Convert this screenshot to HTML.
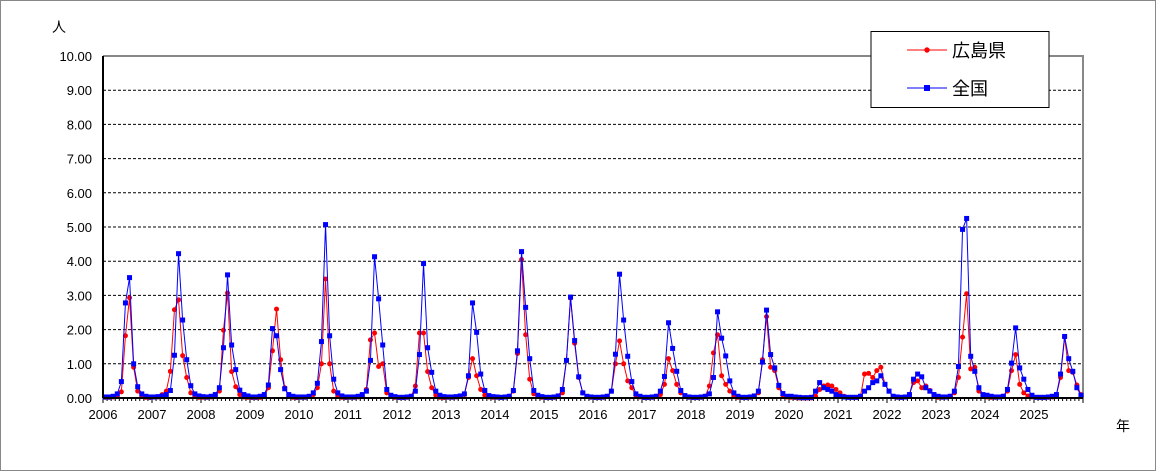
<!DOCTYPE html>
<html><head><meta charset="utf-8"><style>
html,body{margin:0;padding:0;background:#fff}
svg{display:block}
text{font-family:"Liberation Sans","Noto Sans CJK JP",sans-serif}
</style></head><body>
<svg id="c" width="1156" height="471" xmlns="http://www.w3.org/2000/svg"></svg>
<script>
const B={
2006:[.03,.03,.05,.12,.48,2.78,3.52,1.0,.33,.12,.05,.03],
2007:[.03,.04,.06,.1,.22,1.25,4.22,2.28,1.12,.36,.12,.06],
2008:[.04,.03,.05,.1,.3,1.47,3.6,1.55,.83,.23,.1,.06],
2009:[.03,.03,.05,.1,.38,2.03,1.82,.83,.27,.1,.05,.03],
2010:[.03,.03,.05,.15,.43,1.65,5.07,1.82,.55,.15,.06,.03],
2011:[.03,.03,.05,.1,.2,1.1,4.13,2.9,1.55,.25,.08,.04],
2012:[.02,.02,.03,.05,.2,1.27,3.93,1.47,.75,.2,.08,.04],
2013:[.03,.03,.04,.06,.12,.65,2.78,1.92,.7,.22,.07,.04],
2014:[.03,.02,.03,.05,.22,1.38,4.28,2.65,1.15,.22,.08,.04],
2015:[.02,.02,.03,.06,.25,1.1,2.95,1.68,.62,.15,.05,.03],
2016:[.02,.02,.03,.05,.2,1.28,3.62,2.28,1.22,.48,.12,.05],
2017:[.02,.02,.03,.05,.2,.63,2.2,1.45,.78,.22,.07,.03],
2018:[.02,.02,.03,.05,.12,.6,2.52,1.75,1.23,.5,.15,.05],
2019:[.02,.02,.03,.06,.2,1.05,2.57,1.27,.88,.37,.13,.05],
2020:[.05,.03,.02,.01,.01,.02,.2,.45,.3,.25,.2,.1],
2021:[.05,.03,.02,.02,.02,.05,.2,.3,.45,.5,.65,.4],
2022:[.2,.05,.03,.02,.03,.1,.55,.7,.62,.3,.2,.1],
2023:[.05,.03,.03,.05,.2,.92,4.93,5.25,1.22,.78,.3,.1],
2024:[.08,.05,.03,.03,.05,.25,1.02,2.05,.88,.55,.25,.08],
2025:[.02,.02,.02,.03,.05,.1,.7,1.8,1.15,.78,.3,.08]};
const R={
2006:[.02,.02,.03,.05,.18,1.82,2.93,.9,.2,.05,.02,.01],
2007:[.03,.03,.1,.2,.78,2.58,2.87,1.24,.6,.15,.05,.02],
2008:[.02,.02,.03,.08,.2,1.98,3.07,.77,.33,.1,.03,.02],
2009:[.01,.01,.02,.05,.3,1.38,2.6,1.12,.3,.05,.02,.01],
2010:[.02,.02,.04,.1,.3,1.0,3.48,1.0,.2,.05,.02,.01],
2011:[.02,.02,.03,.05,.25,1.7,1.9,.92,1.0,.15,.05,.02],
2012:[.01,.01,.02,.05,.35,1.9,1.9,.77,.3,.08,.02,.01],
2013:[.02,.02,.03,.05,.1,.6,1.15,.65,.25,.08,.03,.02],
2014:[.02,.02,.03,.05,.2,1.3,4.05,1.85,.55,.12,.04,.02],
2015:[.01,.01,.02,.05,.15,1.1,2.92,1.6,.6,.15,.04,.02],
2016:[.01,.01,.02,.05,.2,1.0,1.67,1.0,.5,.3,.08,.03],
2017:[.01,.01,.02,.05,.1,.4,1.15,.8,.4,.15,.04,.02],
2018:[.01,.01,.02,.05,.35,1.32,1.85,.65,.4,.2,.05,.02],
2019:[.01,.01,.02,.05,.15,1.12,2.38,.9,.8,.3,.08,.03],
2020:[.02,.01,0,0,0,0,.05,.25,.35,.38,.35,.25],
2021:[.15,.05,.02,.02,.02,.05,.7,.72,.6,.8,.9,.4],
2022:[.2,.05,.02,.02,.03,.1,.45,.5,.3,.35,.22,.1],
2023:[.02,.02,.03,.05,.15,.6,1.78,3.05,.85,.9,.2,.05],
2024:[.03,.02,.02,.03,.05,.2,.8,1.27,.4,.15,.06,.03],
2025:[.02,.01,.01,.02,.03,.1,.6,1.78,.8,.75,.38,.1]};
const X0=103,X1=1083,Y0=398,U=34.2,YS=49,M=YS/12;
let s='<rect x="0.5" y="0.5" width="1155" height="470" fill="#fff" stroke="#888"/>';
for(let k=1;k<=9;k++){const y=Y0-k*U;s+=`<line x1="${X0}" x2="${X1}" y1="${y}" y2="${y}" stroke="#000" stroke-dasharray="3,2" stroke-width="1"/>`;}
s+=`<polyline points="${X0},56 ${X1},56 ${X1},${Y0}" fill="none" stroke="#888" stroke-width="2"/>`;
for(let k=0;k<=10;k++){const y=Y0-k*U;s+=`<text x="92" y="${y+5}" font-size="13" text-anchor="end">${k.toFixed(2)}</text>`;}
s+=`<text x="52" y="32" font-size="14">人</text><text x="1116" y="431" font-size="14">年</text>`;
for(let i=0;i<=240;i++){const x=X0+i*M;s+=`<line x1="${x}" x2="${x}" y1="${Y0}" y2="${Y0+(i%12?3:5)}" stroke="#000"/>`;}
for(let yr=2006;yr<=2025;yr++){s+=`<text x="${X0+(yr-2006)*YS}" y="419" font-size="13" text-anchor="middle">${yr}</text>`;}
function pts(D){const a=[];for(let yr=2006;yr<=2025;yr++)D[yr].forEach((v,i)=>a.push([X0+(yr-2006)*YS+(i+0.5)*M,Y0-v*U]));return a;}
const r=pts(R),b=pts(B);
s+=`<polyline points="${r.map(p=>p.join(',')).join(' ')}" fill="none" stroke="#f00" stroke-width="1"/>`;
r.forEach(p=>s+=`<circle cx="${p[0]}" cy="${p[1]}" r="2.5" fill="#f00"/>`);
s+=`<polyline points="${b.map(p=>p.join(',')).join(' ')}" fill="none" stroke="#00f" stroke-width="1"/>`;
b.forEach(p=>s+=`<rect x="${p[0]-2.5}" y="${p[1]-2.5}" width="5" height="5" fill="#00f"/>`);
s+=`<line x1="${X0}" x2="${X0}" y1="56" y2="${Y0}" stroke="#000" stroke-width="2"/><line x1="${X0}" x2="${X1}" y1="${Y0}" y2="${Y0}" stroke="#000" stroke-width="2"/>`;
s+=`<rect x="871" y="31.5" width="178" height="76" fill="#fff" stroke="#000"/>`;
s+=`<line x1="907" x2="947" y1="50" y2="50" stroke="#f00"/><circle cx="927" cy="50" r="2.7" fill="#f00"/><text x="952" y="57" font-size="18">広島県</text>`;
s+=`<line x1="907" x2="947" y1="88" y2="88" stroke="#00f"/><rect x="924" y="85" width="6" height="6" fill="#00f"/><text x="952" y="95" font-size="18">全国</text>`;
document.getElementById('c').innerHTML=s;
</script>
</body></html>
